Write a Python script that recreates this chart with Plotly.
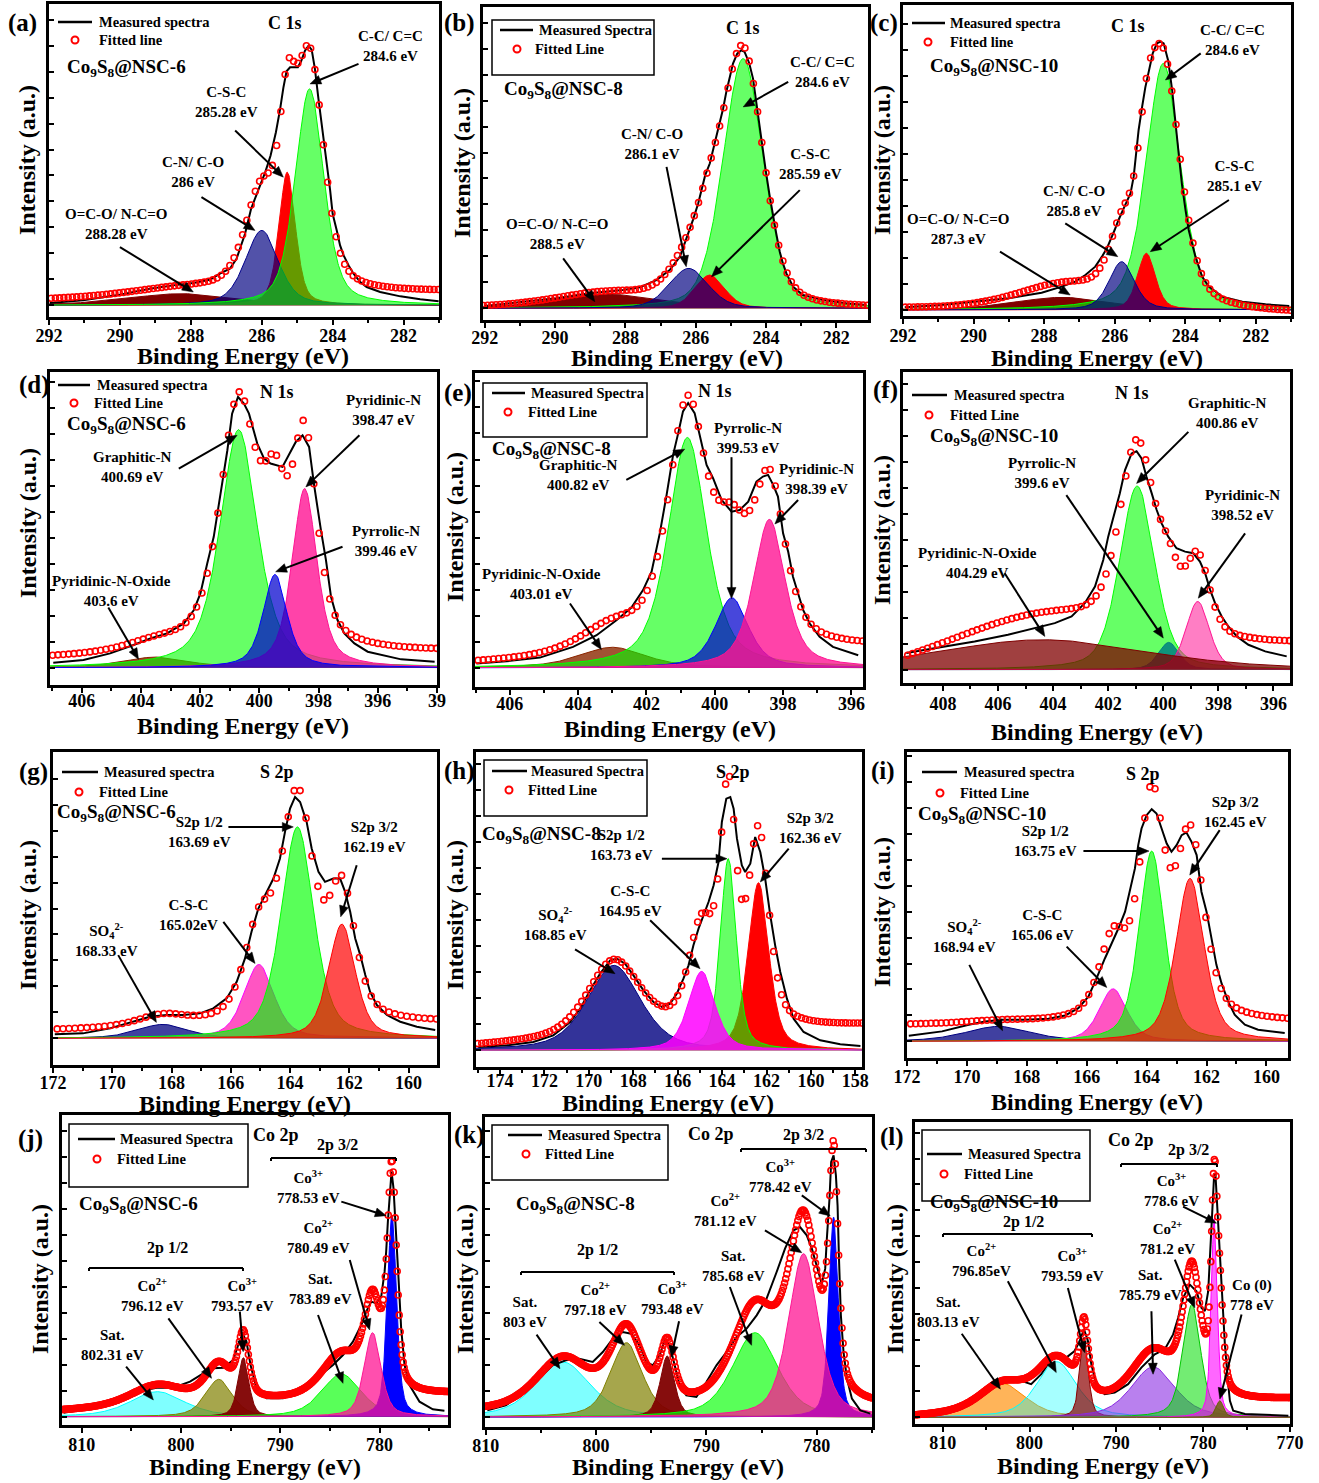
import numpy as np
import plotly.graph_objects as go

W, H = 1319, 1483
FONT = "Liberation Serif, Times New Roman, serif"

# ============================ DATA ============================
# Component peaks: centre (eV), height (a.u.), FWHM (eV); measured spectra points (eV, a.u.)
# (a) C 1s  Co9S8@NSC-6   [O=C-O, C-S-C, C-N, C-C]
A_PEAK_EV = [288.28, 285.28, 286.0, 284.65]
A_PEAK_H = [35, 400, 225, 650]
A_PEAK_FWHM = [3.6, 0.55, 1.1, 0.95]
A_MEAS_EV = [291.98, 291.04, 290.10, 289.16, 288.50, 287.93, 287.46, 287.18, 286.90, 286.71,
             286.47, 286.30, 286.10, 285.90, 285.75, 285.60, 285.48, 285.39, 285.30, 285.20,
             285.10, 284.98, 284.89, 284.78, 284.68, 284.59, 284.50, 284.40, 284.28, 284.17,
             284.07, 284.00, 283.88, 283.79, 283.69, 283.55, 283.41, 283.22, 283.04, 282.66,
             282.09, 281.53, 281.01]
A_MEAS_I = [7, 15, 30, 50, 60, 67, 77, 95, 110, 140, 215, 290, 345, 400, 450, 520, 590, 653, 703, 715,
            715, 715, 733, 765, 780, 767, 710, 620, 520, 425, 345, 275, 223, 180, 150, 120, 95, 70, 55, 40,
            27, 18, 12]
A_TICKS = [292, 290, 288, 286, 284, 282]

# (b) C 1s  Co9S8@NSC-8   [O=C-O, C-C, C-S-C, C-N]
B_PEAK_EV = [288.5, 284.65, 285.6, 286.2]
B_PEAK_H = [42, 750, 100, 120]
B_PEAK_FWHM = [3.6, 1.35, 1.0, 1.3]
B_MEAS_EV = [292.0, 290.91, 289.96, 289.01, 288.07, 287.59, 287.12, 286.74, 286.45, 286.27,
             286.08, 285.93, 285.84, 285.73, 285.60, 285.51, 285.41, 285.22, 285.13, 285.03,
             284.94, 284.82, 284.70, 284.61, 284.48, 284.37, 284.27, 284.20, 284.10, 284.01,
             283.90, 283.80, 283.71, 283.61, 283.52, 283.42, 283.23, 282.95, 282.38, 281.72, 281.15]
B_MEAS_I = [7, 20, 30, 45, 55, 63, 85, 115, 155, 205, 265, 315, 355, 400, 435, 470, 515, 600, 650, 695,
            735, 765, 775, 770, 737, 690, 625, 555, 485, 415, 340, 275, 225, 170, 135, 105, 65, 40, 25, 15, 10]
B_TICKS = [292, 290, 288, 286, 284, 282]

# (c) C 1s  Co9S8@NSC-10  [O=C-O, C-C, C-S-C, C-N]
C_PEAK_EV = [287.5, 284.62, 285.1, 285.8]
C_PEAK_H = [38, 740, 170, 145]
C_PEAK_FWHM = [3.2, 1.15, 0.6, 0.85]
C_MEAS_EV = [291.95, 290.91, 289.96, 289.01, 288.07, 287.50, 287.12, 286.83, 286.55, 286.36,
             286.22, 286.12, 286.0, 285.89, 285.79, 285.68, 285.55, 285.46, 285.32, 285.22,
             285.13, 285.03, 284.92, 284.80, 284.70, 284.61, 284.48, 284.37, 284.27, 284.18,
             284.09, 283.99, 283.90, 283.80, 283.71, 283.52, 283.33, 282.95, 282.38, 281.72, 281.05]
C_MEAS_I = [8, 15, 25, 35, 52, 70, 85, 105, 130, 160, 185, 210, 240, 270, 295, 320, 350, 400, 540, 610,
            668, 720, 770, 800, 805, 800, 747, 660, 560, 465, 375, 300, 240, 200, 160, 100, 70, 40, 25, 17, 12]
C_TICKS = [292, 290, 288, 286, 284, 282]

# (d) N 1s  Co9S8@NSC-6   [N-oxide, graphitic, pyridinic, pyrrolic]
D_PEAK_EV = [403.5, 400.7, 398.47, 399.47]
D_PEAK_H = [32, 715, 538, 280]
D_PEAK_FWHM = [2.6, 1.5, 1.0, 0.95]
D_MEAS_EV = [406.96, 405.94, 405.04, 404.25, 403.68, 403.12, 402.55, 402.21, 401.99, 401.76,
             401.54, 401.31, 401.08, 400.92, 400.72, 400.52, 400.35, 400.07, 399.84, 399.62,
             399.22, 398.99, 398.77, 398.54, 398.32, 398.15, 397.92, 397.75, 397.58, 397.36,
             397.13, 396.79, 396.34, 395.21, 394.08]
D_MEAS_I = [15, 23, 43, 68, 88, 103, 133, 173, 223, 313, 393, 523, 653, 763, 813, 793, 763, 673, 628, 613,
            603, 643, 678, 698, 663, 548, 413, 323, 213, 143, 103, 73, 48, 25, 18]
D_TICKS = [406, 404, 402, 400, 398, 396, 394]

# (e) N 1s  Co9S8@NSC-8   [N-oxide, graphitic, pyrrolic, pyridinic]
E_PEAK_EV = [403.0, 400.8, 399.5, 398.4]
E_PEAK_H = [62, 690, 210, 445]
E_PEAK_FWHM = [2.3, 1.35, 1.15, 1.1]
E_MEAS_EV = [406.98, 406.10, 405.12, 404.15, 403.46, 402.88, 402.44, 402.10, 401.85, 401.61,
             401.41, 401.22, 401.07, 400.93, 400.78, 400.59, 400.39, 400.24, 400.05, 399.80,
             399.51, 399.27, 399.02, 398.78, 398.59, 398.44, 398.29, 398.15, 398.0, 397.85,
             397.71, 397.56, 397.41, 397.22, 396.93, 396.54, 395.80]
E_MEAS_I = [13, 20, 31, 63, 98, 143, 181, 233, 288, 403, 518, 638, 703, 768, 793, 763, 678, 608, 568, 503,
            468, 473, 498, 558, 573, 578, 548, 513, 403, 348, 273, 223, 173, 133, 93, 63, 38]
E_TICKS = [406, 404, 402, 400, 398, 396]

# (f) N 1s  Co9S8@NSC-10  [graphitic, pyrrolic, pyridinic, N-oxide]
F_PEAK_EV = [400.95, 399.8, 398.75, 404.4]
F_PEAK_H = [552, 82, 205, 90]
F_PEAK_FWHM = [1.5, 0.9, 1.0, 9.0]
F_MEAS_EV = [409.33, 408.06, 406.85, 405.64, 404.67, 403.94, 403.33, 402.85, 402.48, 402.18,
             402.0, 401.82, 401.58, 401.39, 401.15, 400.97, 400.79, 400.61, 400.42, 400.24,
             400.06, 399.82, 399.52, 399.21, 398.91, 398.67, 398.48, 398.30, 398.12, 397.88,
             397.64, 397.33, 396.91, 396.30, 395.52]
F_MEAS_I = [50, 68, 85, 105, 125, 140, 160, 200, 250, 330, 400, 460, 530, 600, 650, 657, 635, 580, 530, 480,
            440, 400, 365, 355, 350, 325, 290, 240, 200, 160, 130, 100, 75, 55, 40]
F_TICKS = [408, 406, 404, 402, 400, 398, 396]

# (g) S 2p  Co9S8@NSC-6   [SO4, C-S-C, 2p1/2, 2p3/2]
G_PEAK_EV = [168.3, 165.05, 163.75, 162.25]
G_PEAK_H = [42, 222, 635, 343]
G_PEAK_FWHM = [2.0, 1.2, 1.3, 1.07]
G_MEAS_EV = [171.94, 170.99, 170.08, 169.30, 168.73, 168.17, 167.61, 167.04, 166.59, 166.14,
             165.80, 165.52, 165.30, 165.07, 164.79, 164.56, 164.34, 164.17, 164.0, 163.83,
             163.66, 163.44, 163.27, 163.04, 162.82, 162.54, 162.31, 162.14, 161.97, 161.80,
             161.63, 161.46, 161.30, 161.07, 160.73, 160.28, 159.72, 159.10]
G_MEAS_I = [12, 15, 30, 50, 65, 70, 70, 75, 90, 120, 170, 240, 320, 390, 440, 480, 540, 620, 690, 725,
            710, 650, 570, 500, 470, 480, 480, 440, 380, 300, 250, 190, 140, 100, 70, 50, 35, 25]
G_TICKS = [172, 170, 168, 166, 164, 162, 160]

# (h) S 2p  Co9S8@NSC-8   [SO4, 2p3/2, 2p1/2, C-S-C]
H_PEAK_EV = [168.87, 162.36, 163.72, 164.92]
H_PEAK_H = [255, 503, 575, 237]
H_PEAK_FWHM = [2.85, 1.1, 0.85, 1.4]
H_MEAS_EV = [174.98, 173.70, 172.50, 171.60, 170.84, 170.39, 169.94, 169.49, 169.04, 168.74,
             168.37, 167.99, 167.54, 167.09, 166.71, 166.34, 166.04, 165.74, 165.51, 165.29,
             165.06, 164.84, 164.61, 164.38, 164.16, 164.01, 163.81, 163.63, 163.48, 163.33,
             163.11, 162.96, 162.73, 162.51, 162.28, 162.06, 161.83, 161.61, 161.38, 161.08,
             160.78, 160.33, 159.58, 158.68, 157.77]
H_MEAS_I = [10, 15, 25, 45, 85, 125, 180, 230, 270, 275, 260, 225, 180, 145, 130, 140, 170, 215, 255, 315,
            365, 405, 445, 495, 565, 685, 755, 760, 725, 635, 555, 535, 560, 640, 595, 515, 405, 315, 235, 155,
            95, 55, 30, 18, 13]
H_TICKS = [174, 172, 170, 168, 166, 164, 162, 160, 158]

# (i) S 2p  Co9S8@NSC-10  [SO4, C-S-C, 2p1/2, 2p3/2]
I_PEAK_EV = [168.95, 165.12, 163.83, 162.55]
I_PEAK_H = [45, 158, 572, 490]
I_PEAK_FWHM = [2.6, 1.1, 1.0, 1.12]
I_MEAS_EV = [171.94, 170.83, 169.94, 169.39, 168.83, 168.06, 167.28, 166.72, 166.28, 165.94,
             165.67, 165.39, 165.17, 164.94, 164.72, 164.56, 164.39, 164.28, 164.17, 164.0,
             163.83, 163.67, 163.5, 163.33, 163.17, 163.0, 162.83, 162.67, 162.5, 162.33,
             162.17, 162.0, 161.83, 161.67, 161.5, 161.28, 161.06, 160.72, 160.28, 159.72, 159.39]
I_MEAS_I = [17, 30, 50, 60, 65, 65, 68, 78, 100, 135, 190, 250, 295, 340, 390, 450, 520, 590, 640, 680,
            698, 685, 640, 595, 570, 590, 620, 628, 600, 560, 450, 390, 310, 230, 175, 120, 80, 50, 35, 28, 25]
I_TICKS = [172, 170, 168, 166, 164, 162, 160]

# (j) Co 2p  Co9S8@NSC-6  [sat 802, Co2+ 796, Co3+ 793, sat 784, Co3+ 778, Co2+ 780]
J_PEAK_EV = [802.4, 796.2, 793.72, 783.85, 778.75, 780.7]
J_PEAK_H = [75, 112, 177, 128, 605, 252]
J_PEAK_FWHM = [6.5, 3.2, 1.3, 4.7, 1.1, 2.0]
J_MEAS_EV = [811.84, 808.16, 805.47, 804.13, 802.46, 800.78, 799.10, 797.76, 796.76, 795.75,
             794.75, 794.24, 793.81, 793.41, 793.0, 792.40, 791.39, 789.72, 788.04, 786.37,
             784.69, 783.68, 782.68, 781.84, 781.34, 780.83, 780.33, 779.83, 779.49, 779.33,
             779.16, 778.99, 778.79, 778.59, 778.42, 778.25, 778.05, 777.82, 777.48, 776.98,
             775.97, 774.63, 773.46]
J_MEAS_I = [12, 30, 60, 77, 87, 87, 105, 130, 145, 147, 170, 215, 250, 225, 155, 85, 55, 55, 77, 115,
            155, 185, 225, 275, 315, 345, 340, 360, 435, 495, 585, 665, 735, 685, 615, 515, 395, 265, 155, 95,
            45, 22, 18]
J_TICKS = [810, 800, 790, 780]

# (k) Co 2p  Co9S8@NSC-8
K_PEAK_EV = [803.0, 797.25, 793.55, 785.6, 778.48, 781.2]
K_PEAK_H = [165, 223, 183, 253, 600, 490]
K_PEAK_FWHM = [5.8, 3.4, 1.5, 4.85, 1.0, 3.2]
K_MEAS_EV = [809.85, 808.18, 806.36, 805.15, 803.94, 802.73, 801.52, 800.30, 799.39, 798.48,
             797.58, 796.82, 796.06, 795.45, 794.85, 794.24, 793.79, 793.33, 792.88, 792.42,
             791.82, 790.91, 790.0, 789.09, 788.18, 787.27, 786.36, 785.45, 784.55, 783.64,
             782.88, 782.12, 781.52, 780.91, 780.45, 780.0, 779.55, 779.24, 779.09, 778.85,
             778.70, 778.48, 778.27, 778.12, 778.0, 777.82, 777.58, 777.27, 776.82, 776.06, 775.15]
K_MEAS_I = [20, 35, 75, 115, 155, 170, 175, 165, 195, 235, 255, 250, 215, 165, 155, 185, 230, 215, 155, 95,
            65, 60, 105, 155, 195, 240, 265, 305, 355, 435, 505, 560, 570, 545, 505, 455, 400, 445, 535, 655,
            765, 785, 725, 635, 485, 305, 195, 115, 55, 20, 10]
K_TICKS = [810, 800, 790, 780]

# (l) Co 2p  Co9S8@NSC-10 [sat 803, Co2+ 797, Co3+ 793.6, sat 785.8, Co2+ 781.2, Co3+ 778.6, Co(0) 778]
L_PEAK_EV = [803.1, 796.9, 793.72, 785.77, 781.3, 778.72, 778.08]
L_PEAK_H = [102, 168, 242, 152, 340, 600, 50]
L_PEAK_FWHM = [6.3, 5.4, 1.15, 6.0, 2.4, 0.85, 1.0]
L_MEAS_EV = [813.08, 810.19, 807.12, 805.19, 803.65, 802.5, 800.96, 799.81, 798.65, 797.5,
             796.73, 795.77, 794.81, 794.23, 793.73, 793.27, 792.88, 792.31, 791.35, 790.19,
             788.65, 787.12, 785.58, 784.42, 783.46, 782.88, 782.31, 781.54, 780.77, 780.19,
             779.81, 779.42, 779.23, 779.04, 778.85, 778.73, 778.58, 778.46, 778.35, 778.19,
             778.08, 777.96, 777.81, 777.69, 777.50, 777.31, 777.12, 776.92, 776.54, 775.19, 770.19]
L_MEAS_I = [8, 15, 40, 80, 110, 120, 110, 100, 130, 175, 185, 180, 200, 230, 265, 230, 160, 100, 70, 75,
            100, 150, 190, 205, 250, 300, 360, 400, 380, 330, 320, 380, 470, 570, 670, 735, 730, 690, 630, 560,
            490, 430, 370, 310, 220, 160, 100, 50, 20, 10, 5]
L_TICKS = [810, 800, 790, 780, 770]


# ============================ HELPERS ============================
def pv(x, c, h, w, eta):
    x = np.asarray(x, float)
    z = (x - c) / w
    return h * (eta / (1 + 4 * z ** 2) + (1 - eta) * np.exp(-4 * np.log(2) * z ** 2))


def fit_envelope(mx, my, cen, hgt, fw, eta, lam=0.5):
    mx = np.asarray(mx, float)
    my = np.asarray(my, float)
    lo, hi = mx.min(), mx.max()

    def design(x):
        cols = [pv(x, c, 1.0, w, eta) for c, w in zip(cen, fw)]
        t = (x - lo) / (hi - lo)
        cols += [np.ones_like(x), t]
        return np.stack(cols, axis=1)

    A = design(mx)
    n = len(cen)
    prior = np.r_[np.asarray(hgt, float), 0.0, 0.0]
    reg = np.r_[np.full(n, lam), 1e-4, 1e-4]
    sol = np.linalg.solve(A.T @ A + np.diag(reg), A.T @ my + reg * prior)
    sol[:n] = np.clip(sol[:n], 0, None)
    return lambda x: design(np.asarray(x, float)) @ sol


def P(x, y):
    return x / W, 1 - y / H


NAVY = 'rgba(0,0,128,0.68)'
GRN = 'rgba(0,255,0,0.6)'
C1S_FILL = ['rgb(128,0,0)', 'rgb(255,0,0)', NAVY, GRN]
C1S_LINE = ['#800000', '#ff0000', '#00008b', '#00ff00']
C1S_FILL2 = ['rgb(128,0,0)', GRN, 'rgb(255,0,0)', NAVY]
C1S_LINE2 = ['#800000', '#00ff00', '#ff0000', '#00008b']

SAMPLE = ["Co<sub>9</sub>S<sub>8</sub>@NSC-6", "Co<sub>9</sub>S<sub>8</sub>@NSC-8",
          "Co<sub>9</sub>S<sub>8</sub>@NSC-10"]
SO4 = "SO<sub>4</sub><sup>2-</sup>"

PANELS = [
    dict(tag='(a)', peaks=(A_PEAK_EV, A_PEAK_H, A_PEAK_FWHM), meas=(A_MEAS_EV, A_MEAS_I), ticks=A_TICKS,
         frame=(49, 4, 439, 317), xr=(292, 281), yr=(-35, 905), eta=0.45, step=0.12, minor=1, tls=-5,
         fills=C1S_FILL, lines=C1S_LINE,
         plabel=(22, 23), core=('C 1s', 285, 23), sample=(SAMPLE[0], 65, 68),
         legend=dict(box=None, line=(58, 92, 22), t1=(97, 'Measured spectra'), circ=(75, 40), t2=(97, 'Fitted line')),
         labels=[("C-C/ C=C<br>284.6 eV", 390, 46), ("C-S-C<br>285.28 eV", 226, 102),
                 ("C-N/ C-O<br>286 eV", 193, 172), ("O=C-O/ N-C=O<br>288.28 eV", 116, 224)],
         arrows=[(283.27, 725, 284.64, 665), (286.75, 525, 285.39, 385), (287.70, 325, 286.19, 225),
                 (290.0, 175, 287.93, 40)],
         xtitle=(243, 356), ytitle=(27, 160), brackets=[]),
    dict(tag='(b)', peaks=(B_PEAK_EV, B_PEAK_H, B_PEAK_FWHM), meas=(B_MEAS_EV, B_MEAS_I), ticks=B_TICKS,
         frame=(483, 7, 868, 320), xr=(292.05, 281.1), yr=(-35, 905), eta=0.3, step=0.12, minor=1, tls=-6,
         fills=C1S_FILL2, lines=C1S_LINE2,
         plabel=(459, 23), core=('C 1s', 743, 28), sample=(SAMPLE[1], 502, 90),
         legend=dict(box=(492, 20, 654, 75), line=(500, 533, 30), t1=(537, 'Measured Spectra'), circ=(517, 49),
                     t2=(533, 'Fitted Line')),
         labels=[("C-C/ C=C<br>284.6 eV", 822, 72), ("C-N/ C-O<br>286.1 eV", 652, 144),
                 ("C-S-C<br>285.59 eV", 810, 164), ("O=C-O/ N-C=O<br>288.5 eV", 557, 234)],
         arrows=[(283.37, 680, 284.65, 605), (286.83, 425, 286.27, 125), (283.04, 355, 285.55, 95),
                 (289.77, 150, 288.87, 20)],
         xtitle=(677, 358), ytitle=(462, 163), brackets=[]),
    dict(tag='(c)', peaks=(C_PEAK_EV, C_PEAK_H, C_PEAK_FWHM), meas=(C_MEAS_EV, C_MEAS_I), ticks=C_TICKS,
         frame=(903, 5, 1291, 316), xr=(292, 281), yr=(-18, 915), eta=0.45, step=0.12, minor=1, tls=-4,
         fills=C1S_FILL2, lines=C1S_LINE2,
         plabel=(884, 23), core=('C 1s', 1128, 26), sample=(SAMPLE[2], 928, 67),
         legend=dict(box=None, line=(912, 945, 23), t1=(948, 'Measured spectra'), circ=(928, 42), t2=(948, 'Fitted line')),
         labels=[("C-C/ C=C<br>284.6 eV", 1232, 40), ("C-S-C<br>285.1 eV", 1234, 176),
                 ("C-N/ C-O<br>285.8 eV", 1074, 201), ("O=C-O/ N-C=O<br>287.3 eV", 958, 229)],
         arrows=[(283.56, 770, 284.56, 690), (282.76, 330, 284.99, 175), (287.40, 260, 285.91, 160),
                 (289.25, 175, 287.26, 45)],
         xtitle=(1097, 358), ytitle=(882, 160), brackets=[]),
    dict(tag='(d)', peaks=(D_PEAK_EV, D_PEAK_H, D_PEAK_FWHM), meas=(D_MEAS_EV, D_MEAS_I), ticks=D_TICKS,
         ticktext=['406', '404', '402', '400', '398', '396', '39'],
         frame=(50, 372, 437, 685), xr=(407.07, 394), yr=(-52, 888), eta=0.6, step=0.18, minor=1, tls=-8,
         fills=['rgba(139,40,0,0.85)', GRN, 'rgba(255,20,147,0.8)', 'rgba(0,0,205,0.72)'],
         lines=['#8b2500', '#00ff00', '#ff1493', '#0000ff'],
         plabel=(34, 385), core=('N 1s', 277, 392), sample=(SAMPLE[0], 65, 425),
         legend=dict(box=None, line=(58, 90, 385), t1=(95, 'Measured spectra'), circ=(74, 403), t2=(92, 'Fitted Line')),
         labels=[("Pyridinic-N<br>398.47 eV", 383, 410), ("Graphitic-N<br>400.69 eV", 132, 467),
                 ("Pyrrolic-N<br>399.46 eV", 386, 541), ("Pyridinic-N-Oxide<br>403.6 eV", 111, 591)],
         arrows=[(396.62, 698, 398.43, 543), (402.72, 598, 400.75, 698), (397.19, 363, 399.45, 288),
                 (405.10, 181, 404.08, 25)],
         xtitle=(243, 726), ytitle=(28, 523), brackets=[]),
    dict(tag='(e)', peaks=(E_PEAK_EV, E_PEAK_H, E_PEAK_FWHM), meas=(E_MEAS_EV, E_MEAS_I), ticks=E_TICKS,
         frame=(475, 373, 863, 687), xr=(407.02, 395.66), yr=(-57, 883), eta=0.6, step=0.15, minor=1, tls=-7,
         fills=['rgba(139,40,0,0.8)', GRN, 'rgba(0,0,205,0.72)', 'rgba(255,20,147,0.8)'],
         lines=['#8b2500', '#00ff00', '#0000ff', '#ff1493'],
         plabel=(458, 393), core=('N 1s', 715, 391), sample=(SAMPLE[1], 490, 450),
         legend=dict(box=(483, 383, 647, 437), line=(492, 525, 393), t1=(529, 'Measured Spectra'), circ=(508, 412),
                     t2=(526, 'Fitted Line')),
         labels=[("Graphitic-N<br>400.82 eV", 578, 475), ("Pyrrolic-N<br>399.53 eV", 748, 438),
                 ("Pyridinic-N<br>398.39 eV", 816, 479), ("Pyridinic-N-Oxide<br>403.01 eV", 541, 584)],
         arrows=[(402.59, 563, 400.88, 655), (399.51, 631, 399.51, 208), (397.56, 503, 398.24, 431),
                 (404.24, 193, 403.32, 55)],
         xtitle=(670, 729), ytitle=(455, 527), brackets=[]),
    dict(tag='(f)', peaks=(F_PEAK_EV, F_PEAK_H, F_PEAK_FWHM), meas=(F_MEAS_EV, F_MEAS_I), ticks=F_TICKS,
         frame=(903, 372, 1290, 683), xr=(409.45, 395.4), yr=(-40, 895), eta=0.4, step=0.18, minor=1, tls=-3,
         fills=[GRN, 'rgba(0,128,128,0.85)', 'rgba(255,20,147,0.55)', 'rgba(128,0,0,0.75)'],
         lines=['#00ff00', '#008080', '#ff1493', '#800000'],
         plabel=(885, 390), core=('N 1s', 1132, 393), sample=(SAMPLE[2], 928, 437),
         legend=dict(box=None, line=(912, 947, 395), t1=(952, 'Measured spectra'), circ=(929, 415), t2=(948, 'Fitted Line')),
         labels=[("Graphitic-N<br>400.86 eV", 1227, 413), ("Pyrrolic-N<br>399.6 eV", 1042, 473),
                 ("Pyridinic-N<br>398.52 eV", 1242, 505), ("Pyridinic-N-Oxide<br>404.29 eV", 978, 563)],
         arrows=[(399.09, 715, 400.97, 560), (403.52, 525, 400.0, 95), (397.03, 410, 398.73, 215),
                 (405.76, 290, 404.30, 100)],
         xtitle=(1097, 732), ytitle=(882, 530), brackets=[]),
    dict(tag='(g)', peaks=(G_PEAK_EV, G_PEAK_H, G_PEAK_FWHM), meas=(G_MEAS_EV, G_MEAS_I), ticks=G_TICKS,
         frame=(53, 752, 437, 1065), xr=(172, 159.04), yr=(-80, 860), eta=0.5, step=0.2, minor=1, tls=-6,
         fills=['rgba(0,0,128,0.75)', 'rgba(255,20,170,0.72)', 'rgba(0,255,0,0.65)', 'rgba(255,0,0,0.7)'],
         lines=['#000080', '#ff00ff', '#00ff00', '#ff0000'],
         plabel=(33, 772), core=('S 2p', 277, 772), sample=(SAMPLE[0], 55, 813),
         legend=dict(box=None, line=(62, 98, 772), t1=(102, 'Measured spectra'), circ=(79, 792), t2=(97, 'Fitted Line')),
         labels=[("S2p 1/2<br>163.69 eV", 199, 832), ("S2p 3/2<br>162.19 eV", 375, 837),
                 ("C-S-C<br>165.02eV", 188, 915), (SO4 + "<br>168.33 eV", 107, 940)],
         arrows=[(166.08, 635, 163.89, 635), (161.75, 520, 162.29, 365), (166.25, 350, 165.18, 225),
                 (169.80, 250, 168.51, 48)],
         xtitle=(245, 1104), ytitle=(28, 915), brackets=[]),
    dict(tag='(h)', peaks=(H_PEAK_EV, H_PEAK_H, H_PEAK_FWHM), meas=(H_MEAS_EV, H_MEAS_I), ticks=H_TICKS,
         frame=(476, 752, 862, 1067), xr=(175.08, 157.7), yr=(-50, 895), eta=0.5, step=0.18, minor=1, tls=-10,
         fills=['rgba(0,0,128,0.8)', 'rgb(255,0,0)', 'rgba(0,255,0,0.6)', 'rgba(255,0,255,0.85)'],
         lines=['#000080', '#ff0000', '#00ff00', '#ff00ff'],
         plabel=(459, 771), core=('S 2p', 733, 772), sample=(SAMPLE[1], 480, 835),
         legend=dict(box=(484, 760, 647, 816), line=(492, 527, 771), t1=(529, 'Measured Spectra'), circ=(509, 790),
                     t2=(526, 'Fitted Line')),
         labels=[("S2p 1/2<br>163.73 eV", 621, 845), ("S2p 3/2<br>162.36 eV", 810, 828),
                 ("C-S-C<br>164.95 eV", 630, 901), (SO4 + "<br>168.85 eV", 555, 924)],
         arrows=[(166.71, 575, 163.78, 575), (161.0, 605, 162.28, 505), (167.24, 390, 164.99, 245),
                 (170.62, 303, 168.82, 230)],
         xtitle=(668, 1103), ytitle=(455, 915), brackets=[]),
    dict(tag='(i)', peaks=(I_PEAK_EV, I_PEAK_H, I_PEAK_FWHM), meas=(I_MEAS_EV, I_MEAS_I), ticks=I_TICKS,
         frame=(907, 752, 1288, 1058), xr=(172, 159.28), yr=(-50, 870), eta=0.5, step=0.17, minor=1, tls=-5,
         fills=['rgba(0,0,128,0.75)', 'rgba(255,20,170,0.72)', 'rgba(0,255,0,0.65)', 'rgba(255,0,0,0.68)'],
         lines=['#000080', '#ff00ff', '#00ff00', '#ff0000'],
         plabel=(883, 771), core=('S 2p', 1143, 774), sample=(SAMPLE[2], 916, 815),
         legend=dict(box=None, line=(922, 957, 772), t1=(962, 'Measured spectra'), circ=(940, 793), t2=(958, 'Fitted Line')),
         labels=[("S2p 1/2<br>163.75 eV", 1045, 841), ("S2p 3/2<br>162.45 eV", 1235, 812),
                 ("C-S-C<br>165.06 eV", 1042, 925), (SO4 + "<br>168.94 eV", 964, 936)],
         arrows=[(166.11, 572, 163.92, 572), (161.56, 635, 162.56, 500), (166.67, 285, 165.33, 162),
                 (169.92, 230, 168.81, 32)],
         xtitle=(1097, 1102), ytitle=(882, 912), brackets=[]),
    dict(tag='(j)', peaks=(J_PEAK_EV, J_PEAK_H, J_PEAK_FWHM), meas=(J_MEAS_EV, J_MEAS_I), ticks=J_TICKS,
         frame=(62, 1115, 448, 1425), xr=(812, 773.1), yr=(-25, 905), eta=0.5, step=0.1, minor=5, tls=-4,
         fills=['rgba(0,255,255,0.5)', 'rgba(128,128,0,0.7)', 'rgba(128,0,0,0.95)', 'rgba(0,255,0,0.65)',
                'rgb(0,0,255)', 'rgba(255,20,147,0.75)'],
         lines=['#00ffff', '#808000', '#800000', '#00ff00', '#0000ff', '#ff1493'],
         plabel=(30, 1139), core=('Co 2p', 276, 1135), sample=(SAMPLE[0], 77, 1205),
         legend=dict(box=(69, 1124, 248, 1187), line=(78, 115, 1139), t1=(118, 'Measured Spectra'), circ=(97, 1159),
                     t2=(115, 'Fitted Line')),
         labels=[("Co<sup>3+</sup><br>778.53 eV", 308, 1187), ("Co<sup>2+</sup><br>780.49 eV", 318, 1237),
                 ("Sat.<br>783.89 eV", 320, 1289), ("Co<sup>3+</sup><br>793.57 eV", 242, 1295),
                 ("Co<sup>2+</sup><br>796.12 eV", 152, 1295), ("Sat.<br>802.31 eV", 112, 1345)],
         arrows=[(783.85, 645, 779.33, 603), (783.0, 470, 781.0, 260), (786.2, 305, 783.68, 100),
                 (794.08, 315, 793.74, 195), (801.28, 295, 796.93, 115), (805.54, 150, 802.79, 50)],
         xtitle=(255, 1467), ytitle=(40, 1279),
         brackets=[(271, 396, 1158, '2p 3/2', 337, 1145), (89, 243, 1268, '2p 1/2', 167, 1248)]),
    dict(tag='(k)', peaks=(K_PEAK_EV, K_PEAK_H, K_PEAK_FWHM), meas=(K_MEAS_EV, K_MEAS_I), ticks=K_TICKS,
         frame=(485, 1117, 872, 1427), xr=(810.06, 775), yr=(-30, 900), eta=0.5, step=0.1, minor=5, tls=-5,
         fills=['rgba(0,255,255,0.5)', 'rgba(128,128,0,0.7)', 'rgba(128,0,0,0.95)', 'rgba(0,255,0,0.65)',
                'rgb(0,0,255)', 'rgba(255,20,147,0.75)'],
         lines=['#00ffff', '#808000', '#800000', '#00ff00', '#0000ff', '#ff1493'],
         plabel=(469, 1135), core=('Co 2p', 711, 1134), sample=(SAMPLE[1], 514, 1205),
         legend=dict(box=(492, 1125, 668, 1180), line=(508, 542, 1135), t1=(546, 'Measured Spectra'), circ=(526, 1154),
                     t2=(543, 'Fitted Line')),
         labels=[("Co<sup>3+</sup><br>778.42 eV", 780, 1176), ("Co<sup>2+</sup><br>781.12 eV", 725, 1210),
                 ("Sat.<br>785.68 eV", 733, 1266), ("Co<sup>3+</sup><br>793.48 eV", 672, 1298),
                 ("Co<sup>2+</sup><br>797.18 eV", 595, 1299), ("Sat.<br>803 eV", 525, 1312)],
         arrows=[(781.36, 665, 778.79, 603), (784.7, 560, 781.36, 493), (787.88, 390, 785.91, 215),
                 (792.48, 287, 793.18, 180), (799.7, 285, 797.42, 215), (805.39, 247, 803.27, 145)],
         xtitle=(678, 1467), ytitle=(465, 1279),
         brackets=[(741, 866, 1149, '2p 3/2', 803, 1135), (521, 674, 1272, '2p 1/2', 597, 1250)]),
    dict(tag='(l)', peaks=(L_PEAK_EV, L_PEAK_H, L_PEAK_FWHM), meas=(L_MEAS_EV, L_MEAS_I), ticks=L_TICKS,
         frame=(915, 1122, 1290, 1424), xr=(813.19, 770), yr=(-20, 890), eta=0.5, step=0.1, minor=5, tls=-5,
         fills=['rgba(255,140,0,0.65)', 'rgba(0,255,255,0.35)', 'rgba(139,0,0,0.7)', 'rgba(138,43,226,0.6)',
                'rgba(0,220,0,0.55)', 'rgba(255,0,255,0.6)', 'rgba(100,100,0,0.8)'],
         lines=['#ff8c00', '#00ffff', '#8b0000', '#8a2be2', '#00c800', '#ff00ff', '#646400'],
         plabel=(892, 1137), core=('Co 2p', 1131, 1140), sample=(SAMPLE[2], 928, 1203),
         legend=dict(box=(922, 1130, 1090, 1201), line=(927, 962, 1154), t1=(966, 'Measured Spectra'),
                     circ=(944, 1174), t2=(962, 'Fitted Line')),
         labels=[("Co<sup>3+</sup><br>778.6 eV", 1171, 1190), ("Co<sup>2+</sup><br>781.2 eV", 1167, 1238),
                 ("Co (0)<br>778 eV", 1252, 1295), ("Sat.<br>785.79 eV", 1150, 1285),
                 ("Co<sup>3+</sup><br>793.59 eV", 1072, 1265), ("Co<sup>2+</sup><br>796.85eV", 982, 1260),
                 ("Sat.<br>803.13 eV", 948, 1312)],
         arrows=[(782.31, 635, 778.46, 585), (783.27, 475, 780.96, 330), (775.58, 310, 778.08, 55),
                 (785.96, 320, 785.77, 130), (795.58, 390, 793.65, 195), (802.5, 410, 796.92, 135),
                 (807.81, 252, 803.35, 85)],
         xtitle=(1103, 1466), ytitle=(895, 1279),
         brackets=[(1121, 1217, 1164, '2p 3/2', 1188, 1150), (943, 1092, 1234, '2p 1/2', 1023, 1222)]),
]

# ============================ BUILD ============================
fig = go.Figure()
annotations = []
shapes = []
layout_axes = {}

HEAD_LEN, HEAD_HALF = 11.0, 4.5

for k, p in enumerate(PANELS, start=1):
    xa = 'x' if k == 1 else f'x{k}'
    ya = 'y' if k == 1 else f'y{k}'
    L, T, R, B = p['frame']
    cen, hgt, fw = p['peaks']
    mev, mi = p['meas']
    xr = p['xr']
    yr = p['yr']
    xlo, xhi = min(xr), max(xr)
    xg = np.linspace(xlo, xhi, 700)

    for c, h, w, fc, lc in zip(cen, hgt, fw, p['fills'], p['lines']):
        fig.add_trace(go.Scatter(x=xg, y=pv(xg, c, h, w, p['eta']), mode='lines',
                                 line=dict(color=lc, width=1), fill='tozeroy', fillcolor=fc,
                                 xaxis=xa, yaxis=ya, hoverinfo='skip', showlegend=False))

    order = np.argsort(mev)
    fig.add_trace(go.Scatter(x=np.asarray(mev)[order], y=np.asarray(mi)[order], mode='lines',
                             line=dict(color='black', width=2), xaxis=xa, yaxis=ya,
                             hoverinfo='skip', showlegend=False))

    env = fit_envelope(mev, mi, cen, hgt, fw, p['eta'])
    xm = np.arange(xlo + 0.02, xhi, p['step'])
    fig.add_trace(go.Scatter(x=xm, y=env(xm), mode='markers',
                             marker=dict(symbol='circle-open', size=6, color='red', line=dict(width=1.6)),
                             xaxis=xa, yaxis=ya, hoverinfo='skip', showlegend=False))

    xkey = 'xaxis' if k == 1 else f'xaxis{k}'
    ykey = 'yaxis' if k == 1 else f'yaxis{k}'
    layout_axes[xkey] = dict(
        domain=[L / W, R / W], anchor=ya, range=list(xr), showgrid=False, zeroline=False,
        automargin=False, showline=True, mirror=True, linecolor='black', linewidth=3,
        ticks='outside', ticklen=5, tickwidth=2, tickcolor='black', ticklabelstandoff=p['tls'],
        tickmode='array', tickvals=p['ticks'],
        ticktext=p.get('ticktext', [str(t) for t in p['ticks']]),
        tickfont=dict(size=18, family=FONT, color='black', weight='bold'),
        minor=dict(tickmode='linear', tick0=0, dtick=p['minor'], ticks='outside', ticklen=3,
                   tickwidth=1.5, tickcolor='black'),
        fixedrange=True)
    layout_axes[ykey] = dict(
        domain=[1 - B / H, 1 - T / H], anchor=xa, range=list(yr), showgrid=False, zeroline=False,
        automargin=False, showline=True, mirror=True, linecolor='black', linewidth=3,
        ticks='inside', ticklen=5, tickwidth=1.5, tickcolor='black', tick0=0, dtick=78,
        showticklabels=False, fixedrange=True)

    # pixel <-> data mapping for this panel (used for arrowheads)
    sx = (R - L) / (xr[1] - xr[0])
    sy = (B - T) / (yr[1] - yr[0])

    def to_px(x, y):
        return L + (x - xr[0]) * sx, B - (y - yr[0]) * sy

    def to_data(X, Y):
        return xr[0] + (X - L) / sx, yr[0] + (B - Y) / sy

    # panel letter, core level, sample name
    x0, y0 = P(*p['plabel'])
    annotations.append(dict(text=p['tag'], x=x0, y=y0, xref='paper', yref='paper', showarrow=False,
                            xanchor='center', yanchor='middle', font=dict(size=25)))
    x0, y0 = P(p['core'][1], p['core'][2])
    annotations.append(dict(text=p['core'][0], x=x0, y=y0, xref='paper', yref='paper', showarrow=False,
                            xanchor='center', yanchor='middle', font=dict(size=18)))
    x0, y0 = P(p['sample'][1], p['sample'][2])
    annotations.append(dict(text=p['sample'][0], x=x0, y=y0, xref='paper', yref='paper', showarrow=False,
                            xanchor='left', yanchor='middle', font=dict(size=19)))

    # legend
    lg = p['legend']
    if lg['box'] is not None:
        bx0, by0, bx1, by1 = lg['box']
        shapes.append(dict(type='rect', xref='paper', yref='paper', x0=bx0 / W, x1=bx1 / W,
                           y0=1 - by1 / H, y1=1 - by0 / H, line=dict(color='black', width=1.5)))
    lx0, lx1, ly = lg['line']
    shapes.append(dict(type='line', xref='paper', yref='paper', x0=lx0 / W, x1=lx1 / W,
                       y0=1 - ly / H, y1=1 - ly / H, line=dict(color='black', width=2.5)))
    annotations.append(dict(text=lg['t1'][1], x=lg['t1'][0] / W, y=1 - ly / H, xref='paper', yref='paper',
                            showarrow=False, xanchor='left', yanchor='middle', font=dict(size=14.5)))
    cx, cy = lg['circ']
    shapes.append(dict(type='circle', xref='paper', yref='paper', x0=(cx - 3.5) / W, x1=(cx + 3.5) / W,
                       y0=1 - (cy + 3.5) / H, y1=1 - (cy - 3.5) / H, line=dict(color='red', width=2)))
    annotations.append(dict(text=lg['t2'][1], x=lg['t2'][0] / W, y=1 - cy / H, xref='paper', yref='paper',
                            showarrow=False, xanchor='left', yanchor='middle', font=dict(size=14.5)))

    # peak labels
    for txt, tx, ty in p['labels']:
        x0, y0 = P(tx, ty)
        annotations.append(dict(text=txt, x=x0, y=y0, xref='paper', yref='paper', showarrow=False,
                                xanchor='center', yanchor='middle', align='center', font=dict(size=15)))
    # arrows: shaft + filled triangular head
    for tx, ty, hx, hy in p['arrows']:
        Xt, Yt = to_px(tx, ty)
        Xh, Yh = to_px(hx, hy)
        dx, dy = Xh - Xt, Yh - Yt
        ln = np.hypot(dx, dy)
        ux, uy = dx / ln, dy / ln
        Xb, Yb = Xh - ux * HEAD_LEN, Yh - uy * HEAD_LEN
        nx, ny = -uy, ux
        bx, by = to_data(Xb + ux * 2, Yb + uy * 2)
        shapes.append(dict(type='line', xref=xa, yref=ya, x0=tx, y0=ty, x1=bx, y1=by,
                           line=dict(color='black', width=2)))
        p1 = to_data(Xh, Yh)
        p2 = to_data(Xb + nx * HEAD_HALF, Yb + ny * HEAD_HALF)
        p3 = to_data(Xb - nx * HEAD_HALF, Yb - ny * HEAD_HALF)
        path = f"M {p1[0]},{p1[1]} L {p2[0]},{p2[1]} L {p3[0]},{p3[1]} Z"
        shapes.append(dict(type='path', xref=xa, yref=ya, path=path, fillcolor='black',
                           line=dict(color='black', width=0.5)))

    # brackets (Co 2p)
    for bx0, bx1, by, btxt, btx, bty in p['brackets']:
        shapes.append(dict(type='line', xref='paper', yref='paper', x0=bx0 / W, x1=bx1 / W,
                           y0=1 - by / H, y1=1 - by / H, line=dict(color='black', width=2)))
        for bxe in (bx0, bx1):
            shapes.append(dict(type='line', xref='paper', yref='paper', x0=bxe / W, x1=bxe / W,
                               y0=1 - by / H, y1=1 - (by + 3) / H, line=dict(color='black', width=2)))
        x0, y0 = P(btx, bty)
        annotations.append(dict(text=btxt, x=x0, y=y0, xref='paper', yref='paper', showarrow=False,
                                xanchor='center', yanchor='middle', font=dict(size=16)))

    # axis titles
    x0, y0 = P(*p['xtitle'])
    annotations.append(dict(text='Binding Energy (eV)', x=x0, y=y0, xref='paper', yref='paper',
                            showarrow=False, xanchor='center', yanchor='middle', font=dict(size=24)))
    x0, y0 = P(*p['ytitle'])
    annotations.append(dict(text='Intensity (a.u.)', x=x0, y=y0, xref='paper', yref='paper',
                            showarrow=False, xanchor='center', yanchor='middle', textangle=-90,
                            font=dict(size=24)))

fig.update_layout(
    template='none',
    width=W, height=H, margin=dict(l=0, r=0, t=0, b=0, pad=0), autosize=False,
    paper_bgcolor='white', plot_bgcolor='white', showlegend=False,
    font=dict(family=FONT, size=15, color='black', weight='bold'),
    annotations=annotations, shapes=shapes, **layout_axes)

fig.write_html("out.html", config=dict(responsive=False, displayModeBar=False),
               post_script="document.body.style.margin='0px';document.body.style.padding='0px';")
